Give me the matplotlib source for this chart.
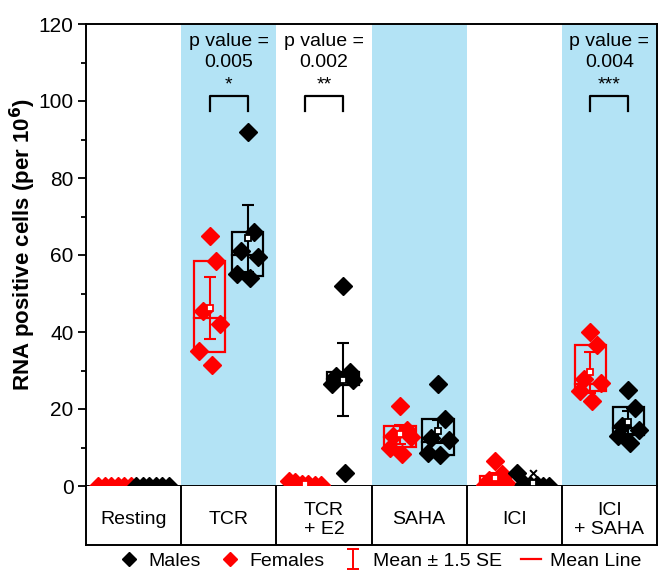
import numpy as np
import matplotlib
matplotlib.use("Agg")
import matplotlib.pyplot as plt
from matplotlib.lines import Line2D
from matplotlib.path import Path

plt.rcParams['font.family'] = ['Liberation Sans', 'DejaVu Sans']

# ---------------- data ----------------
categories = ["Resting", "TCR", "TCR\n+ E2", "SAHA", "ICI", "ICI\n+ SAHA"]

females = [
    [0, 0, 0, 0, 0, 0],
    [65, 58.5, 45.5, 42, 35, 31.5],
    [0.3, 1.0, 0.6, 1.2, 0.5, 0.2],
    [20.7, 14.5, 13, 12.7, 10, 8.2],
    [6.5, 3, 1.5, 0.8, 0.3, 0.2],
    [40, 36.7, 27.7, 26.7, 24.8, 22],
]
males = [
    [0, 0, 0, 0, 0, 0],
    [92, 66, 61, 59.5, 55, 54],
    [52, 29.7, 28.5, 27.5, 26.5, 3.4],
    [26.5, 17.3, 12.5, 12, 8.5, 8],
    [3.3, 0.5, 0.3, 0.2, 0.1, 0],
    [25, 20.3, 15.5, 14.5, 13, 11.2],
]

# box statistics (q1, median, q3, mean, 1.5 SE)
f_q1 = [0, 34.7, 0.3, 10.1, 0.3, 24.8]
f_med = [0, 43.7, 0.5, 12.7, 1.0, 26.6]
f_q3 = [0, 58.4, 1.0, 15.5, 2.5, 36.5]
f_mean = [0, 46.3, 0.6, 13.4, 2.0, 29.5]
f_err = [0, 8.0, 0.2, 2.5, 1.3, 5.3]

m_q1 = [0, 54.6, 26.2, 8.0, 0.1, 13.2]
m_med = [0, 60.0, 27.7, 11.5, 0.25, 15.0]
m_q3 = [0, 66.0, 29.5, 17.3, 0.5, 20.4]
m_mean = [0, 64.4, 27.6, 14.2, 0.7, 16.5]
m_err = [0, 8.7, 9.5, 3.0, 0.6, 3.0]

p_groups = [1, 2, 5]
p_texts = ["p value =\n0.005", "p value =\n0.002", "p value =\n0.004"]
p_stars = ["*", "**", "***"]

# ---------------- layout ----------------
W, H = 658, 576
fig = plt.figure(figsize=(W / 100, H / 100), dpi=100)
left_px, right_px = 86, 657
top_px, zero_px, table_px = 24, 486, 545
ax = fig.add_axes([left_px / W, 1 - zero_px / H, (right_px - left_px) / W, (zero_px - top_px) / H])
axt = fig.add_axes([left_px / W, 1 - table_px / H, (right_px - left_px) / W, (table_px - zero_px) / H])

BLUE = "#B3E3F5"
RED = "#FF0000"
BLACK = "#000000"
OFF = 0.2
BOXW = 0.33

for i in (1, 3, 5):
    ax.axvspan(i, i + 1, color=BLUE, zorder=0, lw=0)

spread_pattern = np.array([0.0, 0.07, -0.07, 0.11, -0.11, 0.02])
flat_pattern = np.linspace(-0.17, 0.17, 6)


def draw_group(ci, vals, q1, med, q3, mean, err, color, side):
    xc = ci + 0.5 + side * OFF
    vals = np.array(vals, dtype=float)
    # box
    if q3 - q1 > 0:
        ax.add_patch(plt.Rectangle((xc - BOXW / 2, q1), BOXW, q3 - q1, fill=False,
                                   ec=color, lw=1.6, zorder=3))
        ax.plot([xc - BOXW / 2, xc + BOXW / 2], [med, med], color=color, lw=1.6, zorder=3)
    # error bar
    if err > 0:
        ax.errorbar([xc], [mean], yerr=[err], color=color, lw=1.5, capsize=4,
                    capthick=1.5, zorder=4, fmt='none')
    # points
    if vals.max() - vals.min() < 5:
        offs = flat_pattern
    else:
        offs = spread_pattern
    order = np.argsort(-vals)
    xs = np.empty_like(vals)
    xs[order] = xc + offs[:len(vals)]
    ax.scatter([xc, xc], [vals.max(), vals.min()], marker='x', s=24, color=color,
               lw=1.4, zorder=5, clip_on=False)
    ax.plot(xs, vals, 'D', ms=9, color=color, mec=color, zorder=6, clip_on=False, ls='none')
    # mean marker
    if mean > 0:
        ax.plot([xc], [mean], 's', ms=4.5, mfc='white', mec=color, mew=1.3, zorder=7)


for ci in range(len(categories)):
    draw_group(ci, females[ci], f_q1[ci], f_med[ci], f_q3[ci], f_mean[ci], f_err[ci], RED, -1)
    draw_group(ci, males[ci], m_q1[ci], m_med[ci], m_q3[ci], m_mean[ci], m_err[ci], BLACK, +1)

# significance annotations
for g, t, s in zip(p_groups, p_texts, p_stars):
    x1, x2 = g + 0.5 - OFF, g + 0.5 + OFF
    ax.plot([x1, x1, x2, x2], [97.5, 101.3, 101.3, 97.5], color='black', lw=1.6, zorder=5)
    ax.text(g + 0.5, 117.6, t, ha='center', va='top', fontsize=14, linespacing=1.3)
    ax.text(g + 0.5, 102.9, s, ha='center', va='baseline', fontsize=14)

ax.set_xlim(0, 6)
ax.set_ylim(0, 120)
ax.set_xticks([])
ax.set_yticks(np.arange(0, 121, 20))
ax.set_yticks(np.arange(10, 120, 20), minor=True)
ax.tick_params(axis='y', which='major', direction='out', length=6, width=1.3, labelsize=15, pad=3)
ax.tick_params(axis='y', which='minor', direction='out', length=3.5, width=1.3)
for sp in ax.spines.values():
    sp.set_linewidth(1.4)
ax.set_ylabel(r"RNA positive cells (per 10$^\mathbf{6}$)", fontsize=16, fontweight='bold')
ax.yaxis.set_label_coords((38 - left_px) / (right_px - left_px), (zero_px - 244) / (zero_px - top_px))

# category table
axt.set_xlim(0, 6)
axt.set_ylim(0, 1)
axt.set_xticks([])
axt.set_yticks([])
for sp in axt.spines.values():
    sp.set_linewidth(1.4)
axt.spines['top'].set_visible(False)
for b in range(1, 6):
    axt.axvline(b, color='black', lw=1.4)
for ci, c in enumerate(categories):
    axt.text(ci + 0.5, 0.43, c, ha='center', va='center', fontsize=14, linespacing=1.15)

# legend
ibeam = Path([(-0.3, 0.5), (0.3, 0.5), (0, 0.5), (0, -0.5), (-0.3, -0.5), (0.3, -0.5)],
             [Path.MOVETO, Path.LINETO, Path.MOVETO, Path.LINETO, Path.MOVETO, Path.LINETO])
handles = [
    Line2D([], [], marker='D', ms=7.5, color=BLACK, ls='none'),
    Line2D([], [], marker='D', ms=7.5, color=RED, ls='none'),
    Line2D([], [], marker=ibeam, ms=15, color=RED, mew=1.4, ls='none', fillstyle='none'),
    Line2D([], [], color=RED, lw=1.6),
]
labels = ["Males", "Females", "Mean \u00b1 1.5 SE", "Mean Line"]
fig.legend(handles, labels, loc='center', bbox_to_anchor=(0.578, 1 - 561 / H), ncol=4,
           frameon=False, fontsize=14, handlelength=1.0, handletextpad=0.5,
           columnspacing=1.0)

fig.savefig("out.png", dpi=100)
